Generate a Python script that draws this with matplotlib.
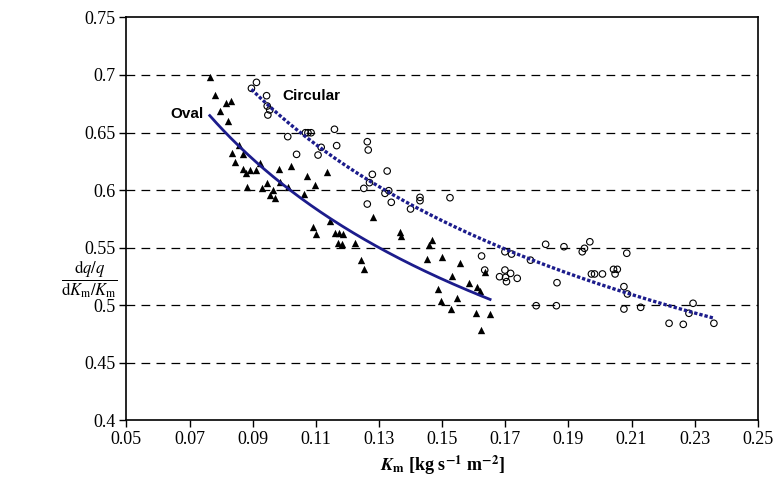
import numpy as np
import matplotlib
matplotlib.use('Agg')
import matplotlib.pyplot as plt

plt.rcParams['font.family'] = 'Liberation Serif'
plt.rcParams['mathtext.fontset'] = 'stix'

# Oval tubes (triangles)
oval_km = [0.0764, 0.0780, 0.0817, 0.0830, 0.0798, 0.0821, 0.0856, 0.0835, 0.0869, 0.0843,
           0.0922, 0.0869, 0.0891, 0.0909, 0.0880, 0.0983, 0.1020, 0.1073, 0.1136, 0.0883,
           0.0944, 0.0930, 0.0965, 0.0956, 0.0972, 0.0988, 0.1011, 0.1064, 0.1097, 0.1144,
           0.1091, 0.1099, 0.1162, 0.1172, 0.1187, 0.1170, 0.1184, 0.1223, 0.1242, 0.1254,
           0.1282, 0.1366, 0.1371, 0.1469, 0.1458, 0.1451, 0.1500, 0.1556, 0.1532, 0.1585,
           0.1611, 0.1620, 0.1635, 0.1487, 0.1495, 0.1546, 0.1527, 0.1606, 0.1652, 0.1622]
oval_ratio = [0.6985, 0.6826, 0.6760, 0.6770, 0.6687, 0.6600, 0.6390, 0.6320, 0.6310, 0.6246,
              0.6232, 0.6180, 0.6174, 0.6174, 0.6145, 0.6180, 0.6210, 0.6125, 0.6154, 0.6023,
              0.6058, 0.6020, 0.6000, 0.5957, 0.5928, 0.6072, 0.6023, 0.5962, 0.6043, 0.5733,
              0.5680, 0.5617, 0.5623, 0.5629, 0.5617, 0.5536, 0.5528, 0.5536, 0.5390, 0.5313,
              0.5768, 0.5638, 0.5600, 0.5565, 0.5522, 0.5397, 0.5420, 0.5363, 0.5252, 0.5194,
              0.5154, 0.5125, 0.5290, 0.5137, 0.5037, 0.5058, 0.4962, 0.4933, 0.4922, 0.4783]

# Circular tubes (open circles)
circ_km = [0.0912, 0.0896, 0.0944, 0.0946, 0.0954, 0.0948, 0.1011, 0.1067, 0.1075, 0.1085,
           0.1159, 0.1117, 0.1166, 0.1039, 0.1107, 0.1263, 0.1266, 0.1279, 0.1326, 0.1270,
           0.1252, 0.1331, 0.1319, 0.1339, 0.1263, 0.1430, 0.1430, 0.1400, 0.1525, 0.1625,
           0.1699, 0.1720, 0.1635, 0.1699, 0.1717, 0.1682, 0.1701, 0.1704, 0.1738, 0.1780,
           0.1828, 0.1886, 0.1944, 0.1951, 0.1968, 0.1864, 0.1973, 0.1983, 0.2008, 0.2043,
           0.2055, 0.2048, 0.2085, 0.2076, 0.2087, 0.1798, 0.1862, 0.2076, 0.2129, 0.2219,
           0.2264, 0.2295, 0.2282, 0.2361]
circ_ratio = [0.6936, 0.6884, 0.6820, 0.6730, 0.6696, 0.6652, 0.6464, 0.6498, 0.6498, 0.6498,
              0.6528, 0.6371, 0.6386, 0.6310, 0.6304, 0.6420, 0.6348, 0.6136, 0.6165, 0.6064,
              0.6014, 0.5994, 0.5971, 0.5893, 0.5878, 0.5936, 0.5907, 0.5835, 0.5933, 0.5426,
              0.5463, 0.5443, 0.5304, 0.5304, 0.5275, 0.5246, 0.5240, 0.5203, 0.5232, 0.5390,
              0.5528, 0.5507, 0.5463, 0.5493, 0.5550, 0.5194, 0.5270, 0.5270, 0.5270, 0.5310,
              0.5310, 0.5270, 0.5450, 0.5160, 0.5096, 0.4994, 0.4994, 0.4965, 0.4980, 0.4841,
              0.4832, 0.5015, 0.4928, 0.4841]

x_ticks = [0.05, 0.07, 0.09, 0.11, 0.13, 0.15, 0.17, 0.19, 0.21, 0.23, 0.25]
y_ticks = [0.4, 0.45, 0.5, 0.55, 0.6, 0.65, 0.7, 0.75]


def power_fit(x, y):
    # power-law trend line, like the spreadsheet one: fit in log-log space
    x = np.asarray(x)
    b, lna = np.polyfit(np.log(x), np.log(y), 1)
    xs = np.linspace(x.min(), x.max(), 200)
    return xs, np.exp(lna) * xs ** b


fig = plt.figure(figsize=(7.78, 4.82), dpi=100)
ax = fig.add_axes([0.1625, 0.1286, 0.8115, 0.8351])

for yv in y_ticks[1:-1]:
    ax.axhline(yv, color='black', lw=0.9, dashes=(7, 5), zorder=1)

ax.scatter(oval_km, oval_ratio, marker='^', s=28, color='black', linewidths=0, zorder=3)
ax.scatter(circ_km, circ_ratio, marker='o', s=22, facecolors='none', edgecolors='black',
           linewidths=0.8, zorder=3)

xs, ys = power_fit(oval_km, oval_ratio)
ax.plot(xs, ys, color='#1c1c8c', lw=2, zorder=4)
xs, ys = power_fit(circ_km, circ_ratio)
ax.plot(xs, ys, color='#1c1c8c', lw=2.4, ls=(0, (1, 0.6)), zorder=4)

ax.text(0.0744, 0.666, 'Oval', family='Liberation Sans', fontweight='bold', fontsize=11,
        ha='right', va='center')
ax.text(0.0994, 0.6817, 'Circular', family='Liberation Sans', fontweight='bold', fontsize=11,
        ha='left', va='center')

ax.set_xlim(0.05, 0.25)
ax.set_ylim(0.4, 0.75)
ax.set_xticks(x_ticks)
ax.set_yticks(y_ticks)
ax.set_xticklabels([f'{v:g}' for v in x_ticks])
ax.set_yticklabels([f'{v:g}' for v in y_ticks])
ax.tick_params(direction='out', length=5, width=1, labelsize=13, pad=3)
for s in ax.spines.values():
    s.set_linewidth(1.2)

ax.set_xlabel(r'$\mathbfit{K}_{\mathbf{m}}$ [kg s$^{\mathbf{-1}}$ m$^{\mathbf{-2}}$]',
              fontsize=13, fontweight='bold', labelpad=4)
ax.set_ylabel(r'$\dfrac{\mathrm{d}q/q}{\mathrm{d}K_\mathrm{m}/K_\mathrm{m}}$',
              fontsize=12, rotation=0, va='center', ha='center')
ax.yaxis.set_label_coords(-0.058, 0.35)

fig.savefig('out.png', dpi=100)
